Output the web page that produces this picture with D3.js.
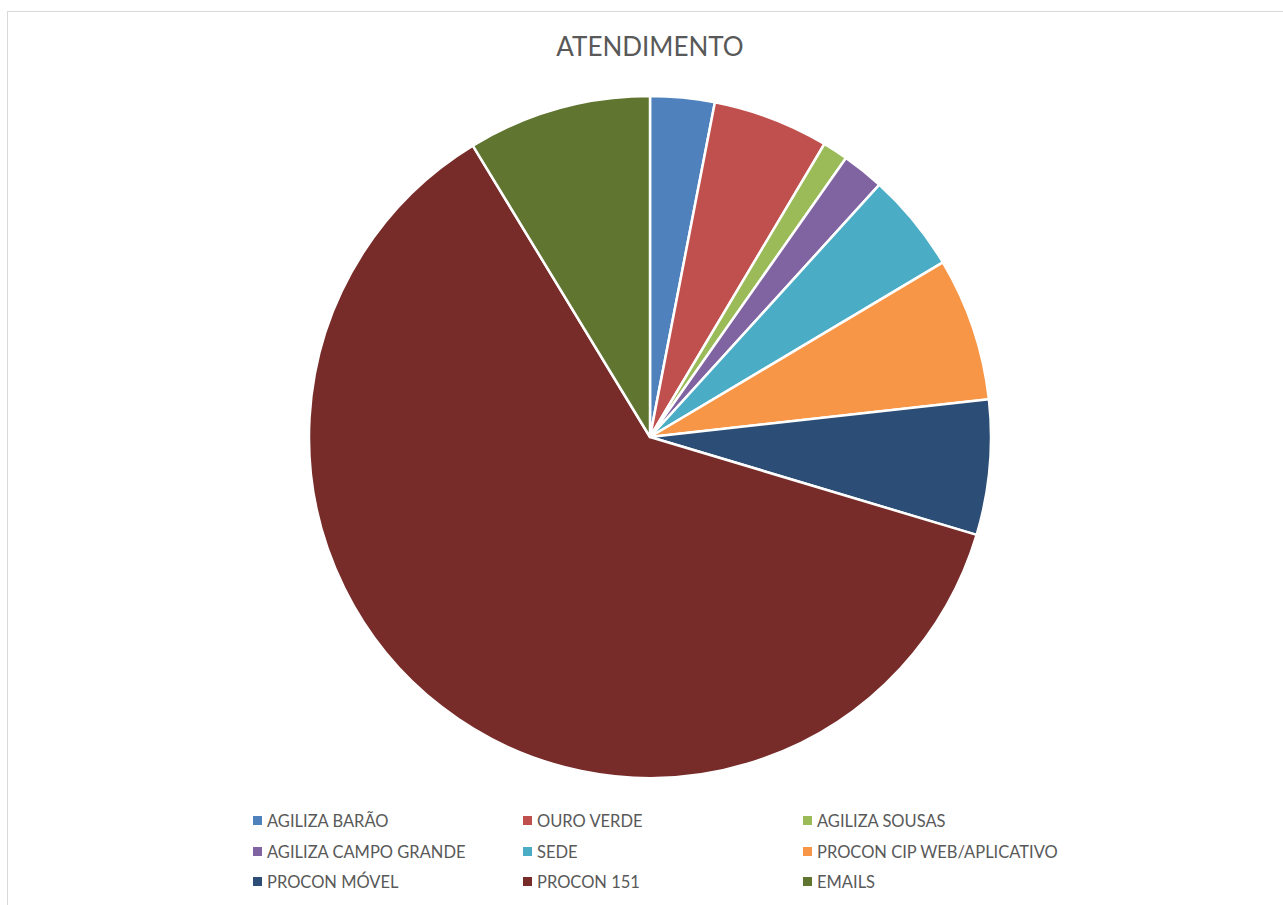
<!DOCTYPE html>
<html>
<head>
<meta charset="utf-8">
<script src="https://cdn.jsdelivr.net/npm/d3@7"></script>
<style>
  body { margin: 0; background: #fff; }
  text { font-family: Lato, "Open Sans", sans-serif; }
</style>
</head>
<body>
<svg id="chart"></svg>
<script>
// chart data
const categories = ["AGILIZA BARÃO", "OURO VERDE", "AGILIZA SOUSAS", "AGILIZA CAMPO GRANDE",
  "SEDE", "PROCON CIP WEB/APLICATIVO", "PROCON MÓVEL", "PROCON 151", "EMAILS"];
const values = [3.05, 5.5, 1.2, 2.0, 4.7, 6.8, 6.4, 61.7, 8.7];
const colors = ["#4f81bd", "#c0504d", "#9bbb59", "#8064a2", "#4bacc6",
  "#f79646", "#2c4d75", "#772c2a", "#5f7530"];

const dimen = { width: 1283, height: 905 };
const center = { x: 650, y: 437 };
const radius = 341;

const svg = d3.select("#chart")
  .attr("width", dimen.width)
  .attr("height", dimen.height);

// chart area border
svg.append("rect")
  .attr("x", 7.5).attr("y", 11.5)
  .attr("width", dimen.width).attr("height", dimen.height)
  .attr("fill", "none")
  .attr("stroke", "#d9d9d9");

svg.append("text")
  .attr("x", center.x).attr("y", 56)
  .attr("text-anchor", "middle")
  .attr("font-size", 26)
  .attr("fill", "#595959")
  .text("ATENDIMENTO");

const pie = d3.pie().sort(null).value(d => d);
const arc = d3.arc().innerRadius(0).outerRadius(radius);

const g = svg.append("g")
  .attr("transform", `translate(${center.x},${center.y})`);

g.selectAll("path")
  .data(pie(values))
  .enter().append("path")
    .attr("d", arc)
    .attr("fill", (d, i) => colors[i])
    .attr("stroke", "#fff")
    .attr("stroke-width", 2.5)
    .attr("stroke-linejoin", "round");

// legend, 3 columns
const colX = [253, 523, 803];
const rowY = [821, 852, 882];

const legend = svg.append("g")
  .selectAll("g")
  .data(categories)
  .enter().append("g")
    .attr("transform", (d, i) => `translate(${colX[i % 3]},${rowY[Math.floor(i / 3)]})`);

legend.append("rect")
  .attr("x", 0).attr("y", -5)
  .attr("width", 9).attr("height", 9)
  .attr("fill", (d, i) => colors[i]);

legend.append("text")
  .attr("x", 14).attr("y", 0)
  .attr("dy", "0.35em")
  .attr("font-size", 16.5)
  .attr("fill", "#595959")
  .text(d => d);
</script>
</body>
</html>
